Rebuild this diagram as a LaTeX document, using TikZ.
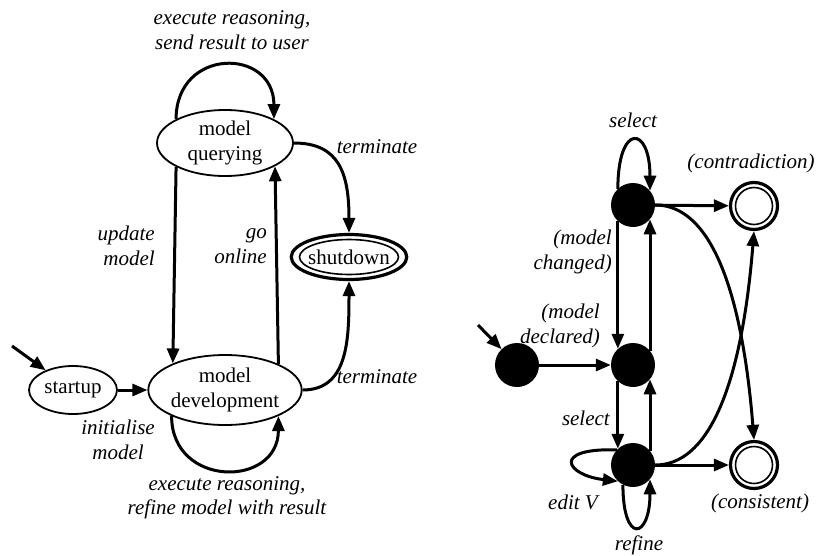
\documentclass[tikz,border=0pt]{standalone}
\usepackage{fontspec}
\setmainfont{Liberation Serif}
\usetikzlibrary{shapes.geometric,arrows.meta}
\tikzset{
  txt/.style={font=\fontsize{21}{24.5}\selectfont, align=center},
  lbl/.style={font=\itshape\fontsize{21}{24.5}\selectfont, align=center, inner sep=0pt},
  state/.style={ellipse, draw, line width=1.8pt, inner sep=0pt, txt},
  finstate/.style={ellipse, draw, line width=3.2pt, inner sep=0pt, txt,
    path picture={\draw[line width=1.6pt] (path picture bounding box.center) ellipse [x radius=49.5pt, y radius=17.5pt];}},
  dot/.style={circle, fill=black, minimum size=44pt, inner sep=0pt},
  acc/.style={circle, draw, line width=3.2pt, minimum size=47pt, inner sep=0pt,
    path picture={\draw[line width=1.6pt] (path picture bounding box.center) circle [radius=18.5pt];}},
  arr/.style={line width=3pt, -{Triangle[length=15pt,width=12pt]}},
}
\begin{document}
\begin{tikzpicture}[x=1pt,y=-1pt]
\useasboundingbox (0,0) rectangle (819,555);
% ---------- left graph ----------
\node[state, minimum width=136pt, minimum height=66pt] (q) at (225,143) {model\\querying};
\node[state, minimum width=136pt, minimum height=70pt] (d) at (225,390) {model\\development};
\node[state, minimum width=88pt, minimum height=48pt] (st) at (73,390) {startup};
\node[finstate, minimum width=109pt, minimum height=45pt] (sd) at (349,257) {shutdown};
\coordinate (i1) at (12,346);

\draw[arr] (i1) -- (st);
\draw[arr] (st) -- (d);
\draw[arr] (q.206) -- (d.153);
\draw[arr] (d.26) -- (q.335);
\draw[arr] (q.154) .. controls +(0,-72) and +(0,-72) .. (q.26);
\draw[arr] (d.206) .. controls +(0,72) and +(0,72) .. (d.334);
\draw[arr] (q.east) .. controls +(45,0) and +(0,-60) .. (sd.north);
\draw[arr] (d.east) .. controls +(45,0) and +(0,60) .. (sd.south);

\node[lbl] (l1) at (232,30) {execute reasoning,\\send result to user};
\node[lbl] (l2) at (377,147) {terminate};
\node[lbl] (l3) at (377,377) {terminate};
\node[lbl, anchor=east, align=right] (l4) at (155,246) {update\\model};
\node[lbl, anchor=east, align=right] (l5) at (267,246) {go\\online};
\node[lbl] (l6) at (118,440) {initialise\\model};
\node[lbl] (l7) at (227,498) {execute reasoning,\\refine model with result};

% ---------- right graph ----------
\node[dot] (t) at (633,205) {};
\node[dot] (m) at (633,365) {};
\node[dot] (b) at (633,465) {};
\node[dot] (s) at (517,365) {};
\node[acc] (c1) at (754,206) {};
\node[acc] (c2) at (754,465) {};
\coordinate (i2) at (478,325);

\draw[arr] (i2) -- (s);
\draw[arr] (s) -- (m);
\draw[arr] (t.227) -- (m.133);
\draw[arr] (m.227) -- (b.133);
\draw[arr] (b.40) -- (m.320);
\draw[arr] (m.40) -- (t.320);
\draw[arr] (t) -- (c1);
\draw[arr] (b) -- (c2);
\draw[arr] (t.133) .. controls +(0,-66) and +(0,-66) .. (t.40);
\draw[arr] (b.137) .. controls +(-66,-2) and +(-52,-6) .. (b.227);
\draw[arr] (b.243) .. controls +(0,60) and +(0,60) .. (b.320);
\draw[arr] (t.east) .. controls +(70,0) and +(-8,-100) .. (c2.north);
\draw[arr] (b.east) .. controls +(70,0) and +(-8,100) .. (c1.south);

\node[lbl] (r1) at (633,120) {select};
\node[lbl] (r2) at (751,163) {(contradiction)};
\node[lbl, anchor=east, align=right] (r3) at (612,252) {(model\\changed)};
\node[lbl, anchor=east, align=right] (r4) at (600,326) {(model\\declared)};
\node[lbl, anchor=east] (r5) at (610,418) {select};
\node[lbl] (r6) at (573,502) {edit V};
\node[lbl] (r7) at (639,545) {refine};
\node[lbl] (r8) at (760,503) {(consistent)};
\end{tikzpicture}
\end{document}
